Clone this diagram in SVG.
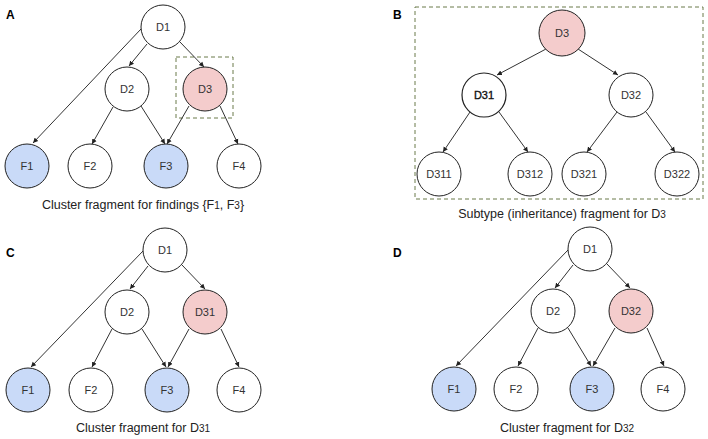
<svg xmlns="http://www.w3.org/2000/svg" width="708" height="439" viewBox="0 0 708 439">
<defs>
<marker id="ah" markerWidth="6" markerHeight="6" refX="5" refY="3" orient="auto" markerUnits="userSpaceOnUse">
<path d="M0,0.5 L5,3 L0,5.5 z" fill="#222"/>
</marker>
<style>
.n{fill:#fff;stroke:#222;stroke-width:1}
.b{fill:#c9daf8;stroke:#222;stroke-width:1}
.p{fill:#f4cccc;stroke:#222;stroke-width:1}
.t{font-family:"Liberation Sans",Arial,sans-serif;font-size:11px;fill:#333;text-anchor:middle;dominant-baseline:central}
.c{font-family:"Liberation Sans",Arial,sans-serif;font-size:12.5px;fill:#222;text-anchor:middle}
.s{font-size:10px}
.l{font-family:"Liberation Sans",Arial,sans-serif;font-size:12px;font-weight:bold;fill:#000}
.e{fill:none;stroke:#333;stroke-width:1;marker-end:url(#ah)}
.box{fill:none;stroke:#6a7a4a;stroke-width:1;stroke-dasharray:4,3}
</style>
</defs>
<rect width="708" height="439" fill="#fff"/>

<!-- Panel labels -->
<text class="l" x="6" y="19">A</text>
<text class="l" x="393" y="19">B</text>
<text class="l" x="6" y="257">C</text>
<text class="l" x="393" y="257">D</text>

<!-- dashed boxes -->
<rect class="box" x="176" y="57" width="57" height="61"/>
<rect class="box" x="415" y="7" width="288" height="192"/>

<g id="connectors">
<!-- A -->
<line class="e" x1="141" y1="29" x2="33" y2="143"/>
<line class="e" x1="147" y1="44" x2="129" y2="66"/>
<line class="e" x1="180" y1="42" x2="204" y2="67"/>
<line class="e" x1="113" y1="107" x2="92" y2="144"/>
<line class="e" x1="141" y1="106" x2="165" y2="144"/>
<line class="e" x1="189" y1="106" x2="167" y2="144"/>
<line class="e" x1="220" y1="106" x2="238" y2="144"/>
<!-- B -->
<line class="e" x1="546" y1="49" x2="497" y2="75"/>
<line class="e" x1="578" y1="49" x2="618" y2="75"/>
<line class="e" x1="470" y1="112" x2="443" y2="152"/>
<line class="e" x1="499" y1="112" x2="528" y2="152"/>
<line class="e" x1="617" y1="112" x2="587" y2="152"/>
<line class="e" x1="646" y1="112" x2="675" y2="152"/>
<!-- C -->
<line class="e" x1="143" y1="251" x2="31" y2="367"/>
<line class="e" x1="148" y1="266" x2="130" y2="289"/>
<line class="e" x1="182" y1="265" x2="205" y2="289"/>
<line class="e" x1="112" y1="329" x2="92" y2="367"/>
<line class="e" x1="142" y1="329" x2="166" y2="367"/>
<line class="e" x1="189" y1="329" x2="168" y2="367"/>
<line class="e" x1="221" y1="329" x2="239" y2="367"/>
<!-- D -->
<line class="e" x1="568" y1="250" x2="456" y2="366"/>
<line class="e" x1="573" y1="265" x2="555" y2="288"/>
<line class="e" x1="607" y1="264" x2="630" y2="288"/>
<line class="e" x1="538" y1="328" x2="518" y2="366"/>
<line class="e" x1="568" y1="328" x2="591" y2="366"/>
<line class="e" x1="615" y1="328" x2="593" y2="366"/>
<line class="e" x1="647" y1="328" x2="664" y2="366"/>
</g>

<!-- Panel A nodes -->
<g id="A-D1"><circle class="n" cx="163" cy="27" r="22"/><text class="t" x="163" y="27">D1</text></g>
<g id="A-D2"><circle class="n" cx="127" cy="89" r="22"/><text class="t" x="127" y="89">D2</text></g>
<g id="A-D3"><circle class="p" cx="205" cy="89" r="22"/><text class="t" x="205" y="89">D3</text></g>
<g id="A-F1"><circle class="b" cx="27" cy="166" r="22"/><text class="t" x="27" y="166">F1</text></g>
<g id="A-F2"><circle class="n" cx="90" cy="166" r="22"/><text class="t" x="90" y="166">F2</text></g>
<g id="A-F3"><circle class="b" cx="166" cy="166" r="22"/><text class="t" x="166" y="166">F3</text></g>
<g id="A-F4"><circle class="n" cx="239" cy="166" r="22"/><text class="t" x="239" y="166">F4</text></g>
<text class="c" x="143" y="209">Cluster fragment for findings {F<tspan class="s">1</tspan>, F<tspan class="s">3</tspan>}</text>

<!-- Panel B nodes -->
<g id="B-D3"><circle class="p" cx="562" cy="33" r="23"/><text class="t" x="562" y="33">D3</text></g>
<g id="B-D31"><circle class="n" cx="484" cy="95" r="22" style="stroke-width:1.2"/><text class="t" x="484" y="95" style="fill:#111;stroke:#111;stroke-width:0.35">D31</text></g>
<g id="B-D32"><circle class="n" cx="631" cy="95" r="22"/><text class="t" x="631" y="95">D32</text></g>
<g id="B-D311"><circle class="n" cx="439" cy="174" r="22"/><text class="t" x="439" y="174">D311</text></g>
<g id="B-D312"><circle class="n" cx="530" cy="174" r="22"/><text class="t" x="530" y="174">D312</text></g>
<g id="B-D321"><circle class="n" cx="584" cy="174" r="22"/><text class="t" x="584" y="174">D321</text></g>
<g id="B-D322"><circle class="n" cx="677" cy="174" r="22"/><text class="t" x="677" y="174">D322</text></g>
<text class="c" x="562" y="218">Subtype (inheritance) fragment for D<tspan class="s">3</tspan></text>

<!-- Panel C nodes -->
<g id="C-D1"><circle class="n" cx="165" cy="250" r="22"/><text class="t" x="165" y="250">D1</text></g>
<g id="C-D2"><circle class="n" cx="127" cy="312" r="22"/><text class="t" x="127" y="312">D2</text></g>
<g id="C-D31"><circle class="p" cx="205" cy="312" r="22"/><text class="t" x="205" y="312">D31</text></g>
<g id="C-F1"><circle class="b" cx="28" cy="390" r="22"/><text class="t" x="28" y="390">F1</text></g>
<g id="C-F2"><circle class="n" cx="91" cy="390" r="22"/><text class="t" x="91" y="390">F2</text></g>
<g id="C-F3"><circle class="b" cx="167" cy="390" r="22"/><text class="t" x="167" y="390">F3</text></g>
<g id="C-F4"><circle class="n" cx="239" cy="390" r="22"/><text class="t" x="239" y="390">F4</text></g>
<text class="c" x="143" y="432">Cluster fragment for D<tspan class="s">31</tspan></text>

<!-- Panel D nodes -->
<g id="D-D1"><circle class="n" cx="590" cy="249" r="22"/><text class="t" x="590" y="249">D1</text></g>
<g id="D-D2"><circle class="n" cx="553" cy="311" r="22"/><text class="t" x="553" y="311">D2</text></g>
<g id="D-D32"><circle class="p" cx="631" cy="311" r="22"/><text class="t" x="631" y="311">D32</text></g>
<g id="D-F1"><circle class="b" cx="454" cy="389" r="22"/><text class="t" x="454" y="389">F1</text></g>
<g id="D-F2"><circle class="n" cx="516" cy="389" r="22"/><text class="t" x="516" y="389">F2</text></g>
<g id="D-F3"><circle class="b" cx="592" cy="389" r="22"/><text class="t" x="592" y="389">F3</text></g>
<g id="D-F4"><circle class="n" cx="663" cy="389" r="22"/><text class="t" x="663" y="389">F4</text></g>
<text class="c" x="567" y="432">Cluster fragment for D<tspan class="s">32</tspan></text>
</svg>
